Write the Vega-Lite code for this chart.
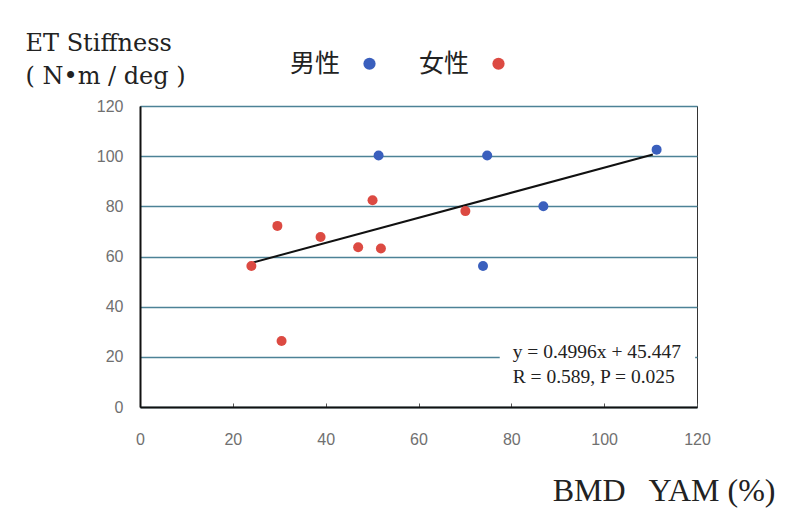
{
  "$schema": "https://vega.github.io/schema/vega-lite/v6.json",
  "autosize": {"type": "none"},
  "width": 557,
  "height": 301,
  "padding": {"left": 140, "top": 106, "right": 93, "bottom": 102},
  "background": "white",
  "config": {
    "view": {"stroke": "#333333", "strokeWidth": 1}
  },
  "datasets": {
    "points": [
      {"bmd": 51.4, "stiff": 100.3, "sex": "男性"},
      {"bmd": 74.8, "stiff": 100.3, "sex": "男性"},
      {"bmd": 111.3, "stiff": 102.6, "sex": "男性"},
      {"bmd": 86.9, "stiff": 80.0, "sex": "男性"},
      {"bmd": 73.9, "stiff": 56.2, "sex": "男性"},
      {"bmd": 24.0, "stiff": 56.2, "sex": "女性"},
      {"bmd": 29.6, "stiff": 72.2, "sex": "女性"},
      {"bmd": 30.5, "stiff": 26.3, "sex": "女性"},
      {"bmd": 38.9, "stiff": 67.8, "sex": "女性"},
      {"bmd": 47.0, "stiff": 63.7, "sex": "女性"},
      {"bmd": 50.1, "stiff": 82.4, "sex": "女性"},
      {"bmd": 51.9, "stiff": 63.2, "sex": "女性"},
      {"bmd": 70.1, "stiff": 78.1, "sex": "女性"}
    ],
    "fit": [
      {"bmd": 24.4, "stiff": 57.64},
      {"bmd": 110.5, "stiff": 100.65}
    ],
    "box": [
      {"bmd": 77.5, "bmd2": 119.6, "stiff": 5, "stiff2": 27}
    ],
    "eq": [
      {"bmd": 80.3, "stiff": 19.5, "label": "y = 0.4996x + 45.447"},
      {"bmd": 80.3, "stiff": 9.55, "label": "R = 0.589, P = 0.025"}
    ]
  },
  "encoding": {
    "x": {
      "field": "bmd", "type": "quantitative",
      "scale": {"domain": [0, 120], "nice": false},
      "axis": {
        "values": [0, 20, 40, 60, 80, 100, 120],
        "grid": false,
        "domainColor": "#111111", "domainWidth": 2,
        "ticks": true, "tickSize": -4, "tickColor": "#555555", "tickWidth": 1,
        "labelFont": "Liberation Sans", "labelFontSize": 16, "labelColor": "#707070",
        "labelPadding": 28, "labelFlush": false,
        "title": "BMD\u2002 YAM (%)",
        "titleFont": "Liberation Serif", "titleFontSize": 32, "titleFontWeight": "normal",
        "titleColor": "#222222",
        "titleAnchor": "end", "titleAlign": "right", "titleBaseline": "alphabetic",
        "titleX": 635, "titleY": 93
      }
    },
    "y": {
      "field": "stiff", "type": "quantitative",
      "scale": {"domain": [0, 120], "nice": false},
      "axis": {
        "values": [0, 20, 40, 60, 80, 100, 120],
        "grid": true, "gridColor": "#4d8296", "gridWidth": 1.5,
        "domainColor": "#111111", "domainWidth": 2,
        "ticks": false,
        "labelFont": "Liberation Sans", "labelFontSize": 16, "labelColor": "#707070",
        "labelPadding": 17,
        "title": ["ET Stiffness", "( N•m / deg )"],
        "titleFont": "DejaVu Serif", "titleFontSize": 24, "titleFontWeight": "normal",
        "titleColor": "#222222", "titleLineHeight": 33,
        "titleAngle": 0, "titleAlign": "left", "titleBaseline": "alphabetic",
        "titleX": -115, "titleY": -56
      }
    }
  },
  "layer": [
    {
      "data": {"name": "box"},
      "mark": {"type": "rect", "fill": "white", "stroke": null},
      "encoding": {
        "x2": {"field": "bmd2"},
        "y2": {"field": "stiff2"}
      }
    },
    {
      "data": {"name": "fit"},
      "mark": {"type": "line", "color": "#111111", "strokeWidth": 2}
    },
    {
      "data": {"name": "points"},
      "mark": {"type": "point", "filled": true, "opacity": 1, "size": 100, "shape": "circle"},
      "encoding": {
        "color": {
          "field": "sex", "type": "nominal",
          "scale": {"domain": ["男性", "女性"], "range": ["#3a5fbd", "#dc4a42"]},
          "legend": {
            "title": null,
            "orient": "none",
            "direction": "horizontal",
            "legendX": 217,
            "legendY": -55,
            "symbolType": "circle",
            "symbolSize": 150,
            "labelFont": "Noto Sans CJK JP",
            "labelFontSize": 25,
            "labelColor": "#222222",
            "labelAlign": "right",
            "labelOffset": -42,
            "columnPadding": 42
          }
        }
      }
    },
    {
      "data": {"name": "eq"},
      "mark": {"type": "text", "align": "left", "baseline": "alphabetic", "font": "Liberation Serif", "fontSize": 19.5, "color": "#222222"},
      "encoding": {
        "text": {"field": "label"}
      }
    }
  ]
}
